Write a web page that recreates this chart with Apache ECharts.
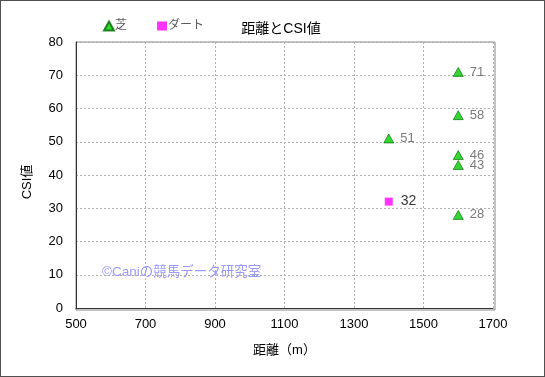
<!DOCTYPE html>
<html><head><meta charset="utf-8">
<script src="https://cdn.jsdelivr.net/npm/echarts@6/dist/echarts.min.js"></script>
<style>
html,body{margin:0;padding:0;background:#fff;}
#c{width:545px;height:377px;box-sizing:border-box;border:1px solid #505050;}
</style></head>
<body><div id="c"></div>
<script>
const turfDist = [1600, 1600, 1400, 1600, 1600, 1600];
const turfCSI = [71, 58, 51, 46, 43, 28];
const dirtDist = [1400];
const dirtCSI = [32];
const xTicks = [500, 700, 900, 1100, 1300, 1500, 1700];
const yTicks = [0, 10, 20, 30, 40, 50, 60, 70, 80];

const G = {left: 75, right: 51, top: 41, bottom: 68};
const chart = echarts.init(document.getElementById('c'));
const font = '"Liberation Sans", "Noto Sans CJK JP", sans-serif';
chart.setOption({
  animation: false,
  textStyle: {fontFamily: font},
  title: {text: '距離とCSI値', left: 275, top: 16, textAlign: 'center',
    textStyle: {fontSize: 14, fontWeight: 'normal', color: '#000', fontFamily: font}},
  legend: {left: 97, top: 14, itemGap: 30, itemWidth: 10, itemHeight: 9,
    textStyle: {fontSize: 12, color: '#595959', padding: [0,0,0,-4]},
    data: [{name: '芝', icon: 'triangle'}, {name: 'ダート', icon: 'rect'}]},
  grid: G,
  xAxis: {type: 'value', min: xTicks[0], max: xTicks[xTicks.length-1], interval: 200,
    name: '距離（m）', nameLocation: 'middle', nameGap: 36,
    nameTextStyle: {fontSize: 13, color: '#000'},
    axisLine: {show: true, onZero: false, lineStyle: {color: '#333', width: 1}},
    axisTick: {show: false}, minorTick: {show: false},
    axisLabel: {fontSize: 13, color: '#000', margin: 10, formatter: v => String(v)},
    splitLine: {show: true, lineStyle: {color: '#b0b0b0', type: [2,2]}}},
  yAxis: {type: 'value', min: yTicks[0], max: yTicks[yTicks.length-1], interval: 10,
    name: 'CSI値', nameLocation: 'middle', nameGap: 42, nameRotate: 90,
    nameTextStyle: {fontSize: 13, color: '#000', padding: [0,0,0,-14]},
    axisLine: {show: true, onZero: false, lineStyle: {color: '#333', width: 1}},
    axisTick: {show: false},
    axisLabel: {fontSize: 13, color: '#000', margin: 13, formatter: v => String(v)},
    splitLine: {show: true, lineStyle: {color: '#b0b0b0', type: [2,2]}}},
  graphic: [
    {type: 'rect', shape: {x: G.left, y: G.top, width: 545 - G.left - G.right, height: 377 - G.top - G.bottom},
      silent: true, z: -1,
      style: {fill: 'none', stroke: '#888', lineWidth: 1}},
    {type: 'text', left: 101, top: 265, z: 10,
      style: {text: '©Caniの競馬データ研究室', fill: '#9a9aff', font: '13.5px ' + font}}
  ],
  series: [
    {name: '芝', type: 'scatter', symbol: 'triangle', symbolSize: [10, 9],
      itemStyle: {color: '#00cc00', borderColor: '#006600', borderWidth: 0.8},
      label: {show: true, position: 'right', distance: 6, fontSize: 13, color: '#595959',
        formatter: p => p.value[1]},
      data: turfDist.map((d, i) => [d, turfCSI[i]])},
    {name: 'ダート', type: 'scatter', symbol: 'rect', symbolSize: 8,
      itemStyle: {color: '#ff00ff'},
      label: {show: true, position: 'right', distance: 8, fontSize: 14, color: '#000',
        formatter: p => p.value[1]},
      data: dirtDist.map((d, i) => [d, dirtCSI[i]])}
  ]
});
</script></body></html>
